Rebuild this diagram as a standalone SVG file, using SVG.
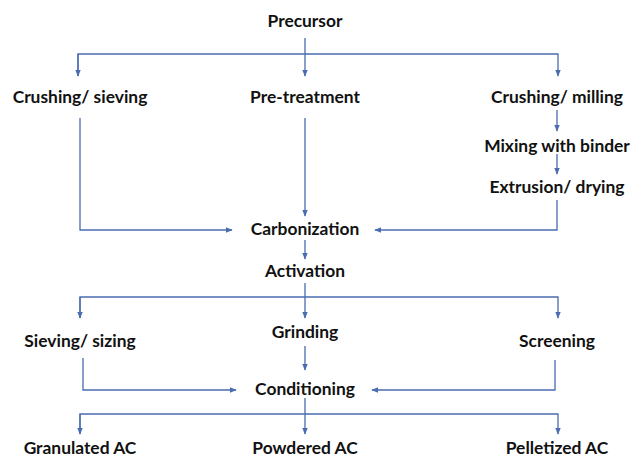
<svg xmlns="http://www.w3.org/2000/svg" width="633" height="458" viewBox="0 0 633 458">
<style>
text{font-family:Lato,"Open Sans","Liberation Sans",sans-serif;font-weight:bold;font-size:17.4px;fill:#111;text-anchor:middle;dominant-baseline:central}
.c path{fill:none;stroke:#4a6cb0;stroke-width:1.3}
</style>
<defs>
<marker id="a" viewBox="0 0 10 10" refX="9" refY="5" markerWidth="7" markerHeight="7" orient="auto" markerUnits="userSpaceOnUse"><path d="M0,1 L10,5 L0,9 Z" fill="#4a6cb0"/></marker>
</defs>
<rect width="633" height="458" fill="#fff"/>
<g class="c" id="connectors">
<path d="M305,38 V76" marker-end="url(#a)"/>
<path d="M78,76 V54 H558 V76" marker-end="url(#a)"/>
<path d="M78,54 V76" marker-end="url(#a)"/>
<path d="M80,118 V230 H232" marker-end="url(#a)"/>
<path d="M305,118 V216" marker-end="url(#a)"/>
<path d="M557,110 V131" marker-end="url(#a)"/>
<path d="M557,154 V174" marker-end="url(#a)"/>
<path d="M557,200 V230 H375" marker-end="url(#a)"/>
<path d="M305,240 V259" marker-end="url(#a)"/>
<path d="M305,283 V318" marker-end="url(#a)"/>
<path d="M80,318 V297 H558 V318" marker-end="url(#a)"/>
<path d="M80,297 V318" marker-end="url(#a)"/>
<path d="M305,346 V370" marker-end="url(#a)"/>
<path d="M83,358 V390 H236" marker-end="url(#a)"/>
<path d="M555,360 V390 H372" marker-end="url(#a)"/>
<path d="M305,398 V434" marker-end="url(#a)"/>
<path d="M80,434 V414 H558 V434" marker-end="url(#a)"/>
<path d="M80,414 V434" marker-end="url(#a)"/>
</g>
<g id="precursor"><text x="305" y="20">Precursor</text></g>
<g id="crushing-sieving"><text x="80" y="96">Crushing/ sieving</text></g>
<g id="pre-treatment"><text x="305" y="96">Pre-treatment</text></g>
<g id="crushing-milling"><text x="557" y="96">Crushing/ milling</text></g>
<g id="mixing"><text x="557" y="145">Mixing with binder</text></g>
<g id="extrusion"><text x="557" y="186">Extrusion/ drying</text></g>
<g id="carbonization"><text x="305" y="228">Carbonization</text></g>
<g id="activation"><text x="305" y="270">Activation</text></g>
<g id="sieving-sizing"><text x="80" y="340">Sieving/ sizing</text></g>
<g id="grinding"><text x="305" y="331">Grinding</text></g>
<g id="screening"><text x="557" y="340">Screening</text></g>
<g id="conditioning"><text x="305" y="388">Conditioning</text></g>
<g id="granulated"><text x="80" y="447">Granulated AC</text></g>
<g id="powdered"><text x="305" y="447">Powdered AC</text></g>
<g id="pelletized"><text x="557" y="447">Pelletized AC</text></g>
</svg>
